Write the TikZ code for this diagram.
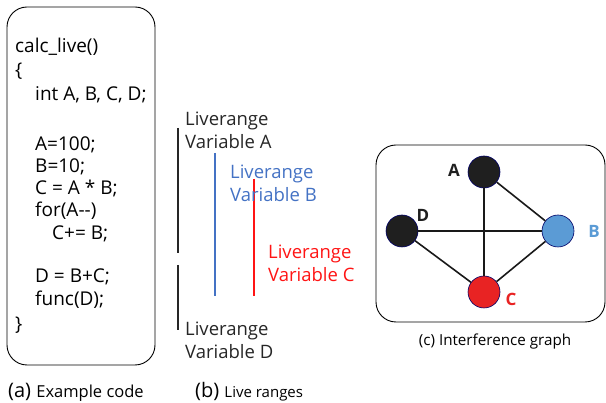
\documentclass[tikz,border=0pt]{standalone}
\usepackage{fontspec}
\setmainfont{Open Sans}
\begin{document}
\begin{tikzpicture}[x=1pt,y=-1pt,
  code/.style={anchor=west,inner sep=0pt,font=\fontsize{19}{22}\selectfont},
  lbl/.style={anchor=west,inner sep=0pt,align=left,font=\fontsize{18.5}{23}\selectfont},
  rng/.style={line width=1.6pt},
  vtx/.style={circle,minimum size=32pt,inner sep=0pt,draw=blue!40!black,line width=0.6pt},
  edge/.style={line width=1.6pt,black!90},
  vlab/.style={font=\fontsize{17}{20}\selectfont\bfseries,inner sep=0pt},
  captext/.style={anchor=west,inner sep=0pt}]
\definecolor{lblue}{RGB}{68,114,196}
\definecolor{nblue}{RGB}{91,155,213}
\definecolor{lred}{RGB}{255,20,20}
\definecolor{nred}{RGB}{232,35,35}
\useasboundingbox (0,0) rectangle (606,403);
% (a)
\draw[line width=0.9pt,rounded corners=20pt] (7,7) rectangle (155,365);
\node[code] (c1) at (15,47) {calc\_live()};
\node[code] (c2) at (15,71) {\{};
\node[code] (c3) at (35,95) {int A, B, C, D;};
\node[code] (c4) at (35,145) {A=100;};
\node[code] (c5) at (35,167) {B=10;};
\node[code] (c6) at (35,189) {C = A * B;};
\node[code] (c7) at (35,211) {for(A-{}-)};
\node[code] (c8) at (52,234) {C+= B;};
\node[code] (c9) at (35,277) {D = B+C;};
\node[code] (c10) at (35,300) {func(D);};
\node[code] (c11) at (15,325) {\}};
\node[captext] (capa) at (8,392) {\fontsize{20}{22}\selectfont(a) \fontsize{16.5}{18}\selectfont Example code};
% (b)
\coordinate (a1) at (178,128); \coordinate (a2) at (178,253);
\coordinate (d1) at (178,265); \coordinate (d2) at (178,330);
\coordinate (b1) at (215,153); \coordinate (b2) at (215,296);
\coordinate (r1) at (254,179); \coordinate (r2) at (254,296);
\draw[rng,black!85] (a1) -- (a2);
\draw[rng,black!85] (d1) -- (d2);
\draw[rng,lblue] (b1) -- (b2);
\draw[rng,lred] (r1) -- (r2);
\node[lbl,black!85] (la) at (185,130) {Liverange\\Variable A};
\node[lbl,lblue] (lb) at (230,183) {Liverange\\Variable B};
\node[lbl,lred] (lc) at (268,263) {Liverange\\Variable C};
\node[lbl,black!85] (ld) at (185,340) {Liverange\\Variable D};
\node[captext] (capb) at (195,392) {\fontsize{20}{22}\selectfont(b) \fontsize{15}{18}\selectfont Live ranges};
% (c)
\draw[line width=0.9pt,rounded corners=20pt] (376,145) rectangle (605,322);
\node[vtx,fill=black!88] (A) at (484,172) {};
\node[vtx,fill=black!88] (D) at (402,231) {};
\node[vtx,fill=nblue] (B) at (558,231) {};
\node[vtx,fill=nred] (C) at (484,292) {};
\draw[edge] (A) -- (C);
\draw[edge] (A) -- (B);
\draw[edge] (D) -- (B);
\draw[edge] (D) -- (C);
\draw[edge] (B) -- (C);
\node[vlab,black!88] (tA) at (454,170) {A};
\node[vlab,black!88] (tD) at (423,215) {D};
\node[vlab,nblue] (tB) at (594,231) {B};
\node[vlab,nred] (tC) at (511,299) {C};
\node[inner sep=0pt,font=\fontsize{15.2}{18}\selectfont] (capc) at (495,342) {(c) Interference graph};
\end{tikzpicture}
\end{document}
